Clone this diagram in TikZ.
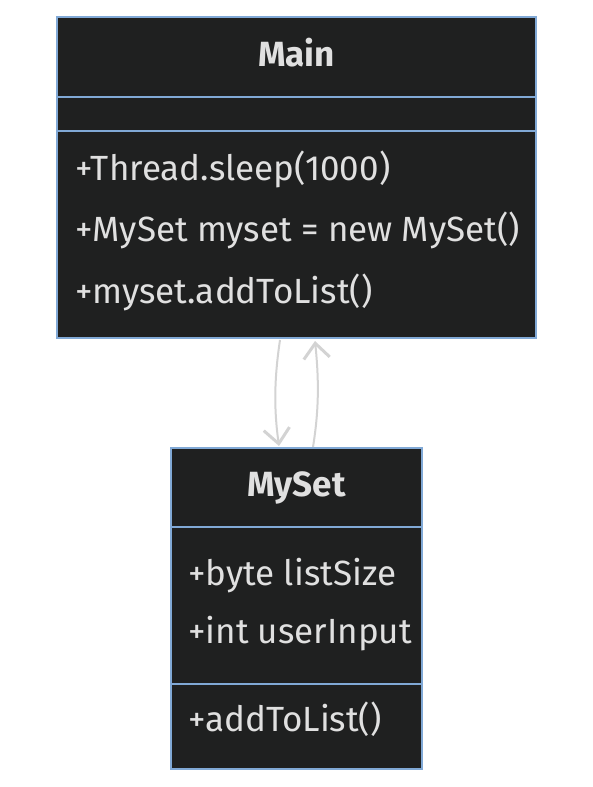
\documentclass[tikz,border=0pt]{standalone}
\usepackage{fontspec}
\setmainfont{Fira Sans}
\usetikzlibrary{arrows.meta}
\definecolor{boxfill}{HTML}{1F2020}
\definecolor{boxline}{HTML}{81A9D6}
\definecolor{txt}{HTML}{E0E0E0}
\definecolor{conn}{HTML}{D3D3D3}
\begin{document}
\begin{tikzpicture}[x=1pt,y=-1pt,
  umlbox/.style={draw=boxline, fill=boxfill, line width=2pt, inner sep=0pt},
  divider/.style={draw=boxline, line width=2pt},
  member/.style={anchor=base west, inner sep=0pt, text=txt, font=\fontsize{35}{35}\selectfont},
  title/.style={anchor=base, inner sep=0pt, text=txt, font=\fontsize{35}{35}\selectfont\bfseries},
  conn/.style={draw=conn, line width=2pt, -{Straight Barb[length=15pt,width=26pt,line width=3pt]}}]
\useasboundingbox (0,0) rectangle (593,787);
% Main class
\node[umlbox, minimum width=479pt, minimum height=321pt] (main) at (296.5,177.5) {};
\coordinate (md1l) at (57,97); \coordinate (md1r) at (536,97);
\coordinate (md2l) at (57,131); \coordinate (md2r) at (536,131);
\draw[divider] (md1l) -- (md1r);
\draw[divider] (md2l) -- (md2r);
\node[title] (mainT) at (296.5,66) {Main};
\node[member] (m1) at (75,180) {+Thread.sleep(1000)};
\node[member] (m2) at (75,241) {+MySet myset = new MySet()};
\node[member] (m3) at (75,303) {+myset.addToList()};
% MySet class
\node[umlbox, minimum width=251pt, minimum height=321pt] (myset) at (296.5,608.5) {};
\coordinate (sd1l) at (171,527); \coordinate (sd1r) at (422,527);
\coordinate (sd2l) at (171,684); \coordinate (sd2r) at (422,684);
\draw[divider] (sd1l) -- (sd1r);
\draw[divider] (sd2l) -- (sd2r);
\node[title] (mysetT) at (296.5,496) {MySet};
\node[member] (s1) at (188,585) {+byte listSize};
\node[member] (s2) at (188,643) {+int userInput};
\node[member] (s3) at (188,731) {+addToList()};
% connectors
\coordinate (a1s) at (280,340);
\coordinate (a1e) at (279,446);
\coordinate (a2s) at (313,447);
\coordinate (a2e) at (315,341);
\draw[conn] (a1s) .. controls (274,380) and (274,410) .. (a1e);
\draw[conn] (a2s) .. controls (319,410) and (319,380) .. (a2e);
\end{tikzpicture}
\end{document}
